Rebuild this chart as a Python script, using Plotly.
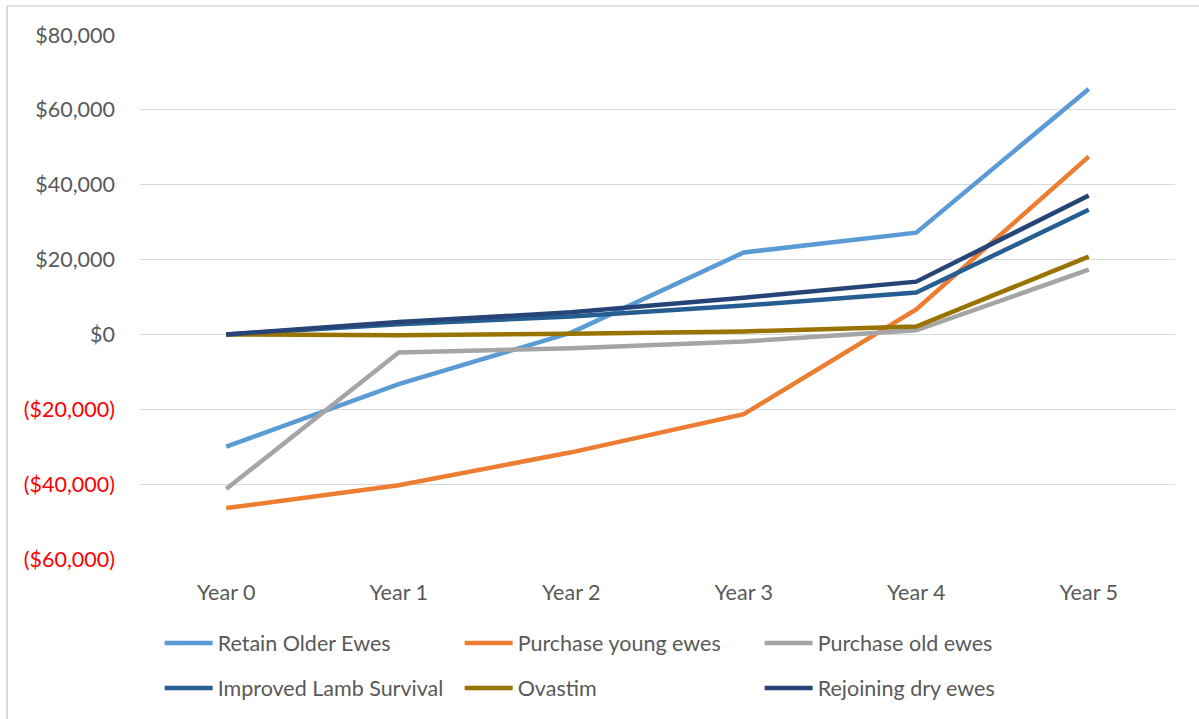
import plotly.graph_objects as go

years = ["Year 0", "Year 1", "Year 2", "Year 3", "Year 4", "Year 5"]

retain_older = [-30000, -13300, 500, 21900, 27200, 65600]
purchase_young = [-46400, -40300, -31500, -21300, 6700, 47500]
purchase_old = [-41300, -4800, -3700, -1900, 1100, 17300]
improved_lamb = [0, 2700, 4800, 7700, 11200, 33300]
ovastim = [0, -200, 200, 800, 2100, 20800]
rejoining_dry = [0, 3300, 5900, 9800, 14100, 37100]

tick_vals = [80000, 60000, 40000, 20000, 0, -20000, -40000, -60000]
tick_text = ["$80,000", "$60,000", "$40,000", "$20,000", "$0",
             "($20,000)", "($40,000)", "($60,000)"]

series = [
    ("Retain Older Ewes", retain_older, "#5B9BD5", "legend"),
    ("Purchase young ewes", purchase_young, "#ED7D31", "legend"),
    ("Purchase old ewes", purchase_old, "#A5A5A5", "legend"),
    ("Improved Lamb Survival", improved_lamb, "#255E91", "legend2"),
    ("Ovastim", ovastim, "#997300", "legend2"),
    ("Rejoining dry ewes", rejoining_dry, "#264478", "legend2"),
]

FONT = "Lato, 'Open Sans', sans-serif"
GREY_TXT = "#595959"
FSIZE = 21.5

fig = go.Figure()
for name, vals, color, leg in series:
    fig.add_trace(go.Scatter(
        x=years, y=vals, name=name, mode="lines",
        line=dict(color=color, width=4.5),
        legend=leg,
    ))

# negative values shown in red with parentheses
colored_text = [
    f'<span style="color:#FF0000">{t}</span>' if v < 0 else t
    for v, t in zip(tick_vals, tick_text)
]

legend_common = dict(
    orientation="h", xanchor="left", yanchor="middle",
    entrywidth=237, entrywidthmode="pixels",
    font=dict(family=FONT, size=FSIZE, color=GREY_TXT),
    bgcolor="rgba(0,0,0,0)", itemwidth=48,
    traceorder="normal",
)

fig.update_layout(
    width=1199, height=719,
    margin=dict(l=140, r=24, t=35, b=159),
    paper_bgcolor="white", plot_bgcolor="white",
    font=dict(family=FONT, size=FSIZE, color=GREY_TXT),
    showlegend=True,
    legend=dict(x=0.019, y=-0.158, **legend_common),
    legend2=dict(x=0.019, y=-0.244, **legend_common),
    xaxis=dict(
        type="category", range=[-0.5, 5.5],
        showgrid=False, showline=False, zeroline=False,
        ticks="", ticklabelstandoff=18,
        tickfont=dict(family=FONT, size=FSIZE, color=GREY_TXT),
        fixedrange=True,
    ),
    yaxis=dict(
        range=[-60000, 80000],
        tickvals=tick_vals, ticktext=colored_text,
        showgrid=True, gridcolor="#D9D9D9", gridwidth=1.3,
        zeroline=False, showline=False, ticks="",
        ticklabelstandoff=24,
        tickfont=dict(family=FONT, size=FSIZE, color=GREY_TXT),
        fixedrange=True,
    ),
    shapes=[
        # chart frame: top and left edges
        dict(type="line", xref="paper", yref="paper",
             x0=-0.1285, x1=1.05, y0=1.0552, y1=1.0552,
             line=dict(color="#D9D9D9", width=1.5)),
        dict(type="line", xref="paper", yref="paper",
             x0=-0.1285, x1=-0.1285, y0=1.0552, y1=-0.32,
             line=dict(color="#D9D9D9", width=2)),
    ],
)

fig.write_html("out.html")
